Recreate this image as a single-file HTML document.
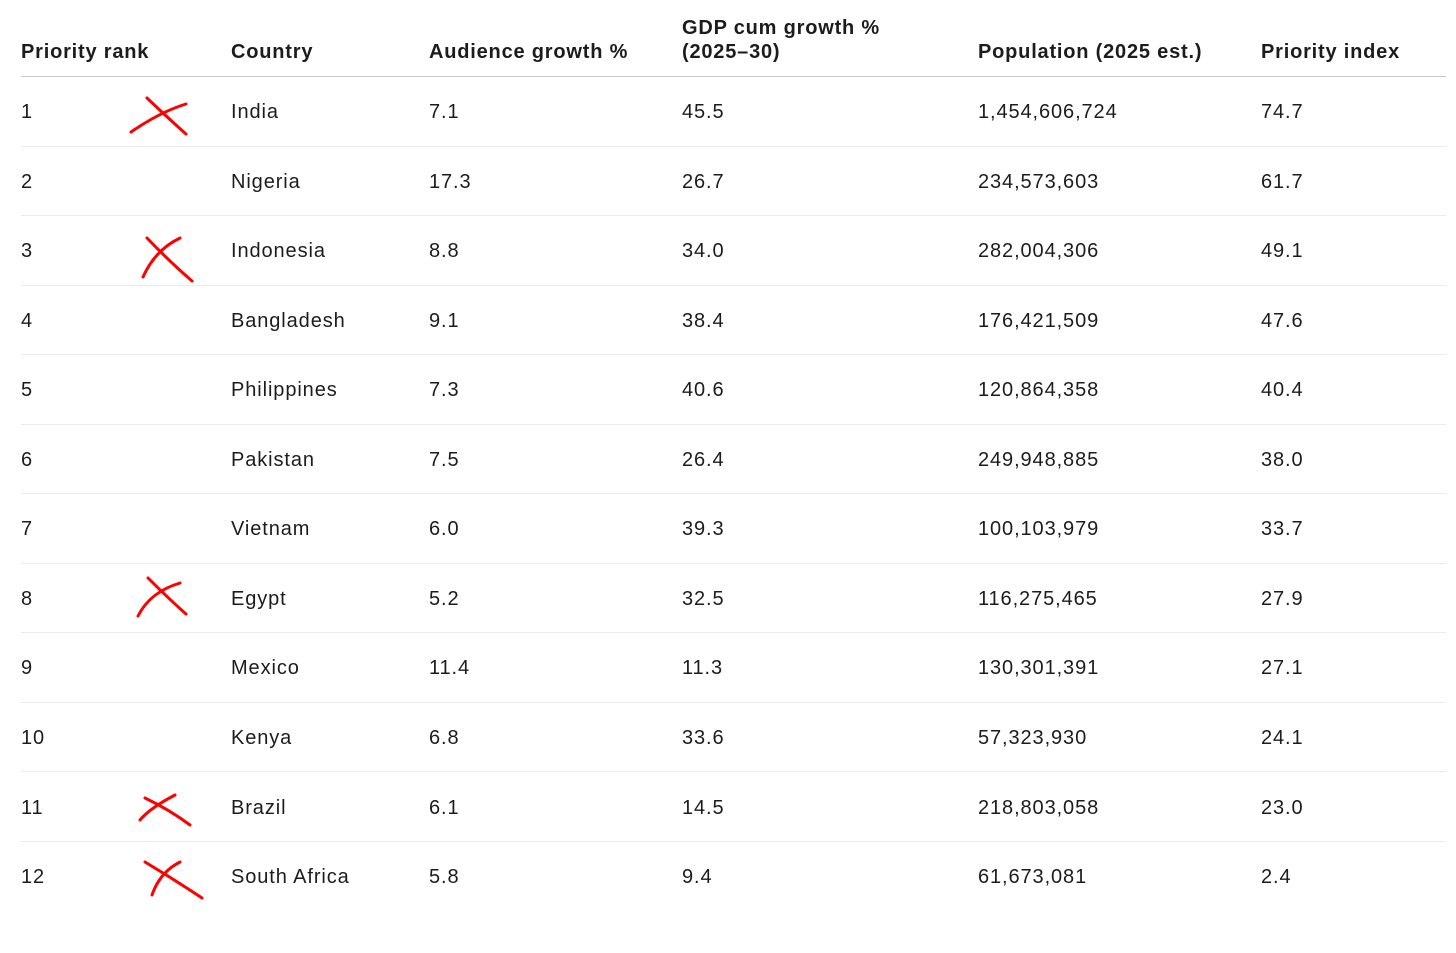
<!DOCTYPE html>
<html><head><meta charset="utf-8"><style>
body{margin:0;background:#fff;width:1456px;height:953px;overflow:hidden;font-family:"Liberation Sans",sans-serif;color:#1c1c1c;position:relative}
.t{position:absolute;font-size:20px;line-height:24px;white-space:nowrap;letter-spacing:0.9px}
.h{font-weight:bold;font-size:20px;letter-spacing:0.8px}
.line{position:absolute;left:21px;width:1425px;height:1px;background:#ececec}
</style></head><body>
<div id="root"></div>
<svg id="marks" width="1456" height="953" style="position:absolute;left:0;top:0"></svg>
<script>
const headers=["Priority rank","Country","Audience growth %","GDP cum growth %<br>(2025–30)","Population (2025 est.)","Priority index"];
const countries=["India","Nigeria","Indonesia","Bangladesh","Philippines","Pakistan","Vietnam","Egypt","Mexico","Kenya","Brazil","South Africa"];
const audience=["7.1","17.3","8.8","9.1","7.3","7.5","6.0","5.2","11.4","6.8","6.1","5.8"];
const gdp=["45.5","26.7","34.0","38.4","40.6","26.4","39.3","32.5","11.3","33.6","14.5","9.4"];
const population=["1,454,606,724","234,573,603","282,004,306","176,421,509","120,864,358","249,948,885","100,103,979","116,275,465","130,301,391","57,323,930","218,803,058","61,673,081"];
const priority=["74.7","61.7","49.1","47.6","40.4","38.0","33.7","27.9","27.1","24.1","23.0","2.4"];
const cols=[21,231,429,682,978,1261];
const root=document.getElementById('root');
headers.forEach((h,i)=>{
  const d=document.createElement('div');
  d.className='t h';
  
  
  d.innerHTML=h;
  d.style.left=cols[i]+'px';
  d.style.top=(i===3?16:40)+'px';
  root.appendChild(d);
});
const hl=document.createElement('div');
hl.className='line';hl.style.top='76px';hl.style.background='#c8c8c8';


root.appendChild(hl);
const rowH=69.55;
countries.forEach((c,r)=>{
  const vals=[String(r+1),c,audience[r],gdp[r],population[r],priority[r]];
  const cy=112+r*rowH;
  vals.forEach((v,i)=>{
    const d=document.createElement('div');
    d.className='t';
    
    
    d.textContent=v;
    d.style.left=cols[i]+'px';
    d.style.top=(cy-12)+'px';
    root.appendChild(d);
  });
  if(r<11){
    const l=document.createElement('div');
    l.className='line';
    
    
    l.style.top=Math.round(cy+33.5)+'px';
    root.appendChild(l);
  }
});
const crosses=[
 "M131 132 Q160 112 186 104 M147 98 Q168 118 186 134",
 "M147 238 Q170 262 192 281 M180 238 Q155 250 143 277",
 "M148 578 Q168 598 186 614 M180 583 Q150 592 138 616",
 "M145 798 Q170 810 190 825 M175 795 Q150 808 140 820",
 "M145 862 Q175 880 202 898 M180 862 Q160 872 152 895"];
const svg=document.getElementById('marks');
crosses.forEach(p=>{
  const e=document.createElementNS('http://www.w3.org/2000/svg','path');
  e.setAttribute('d',p);e.setAttribute('stroke','#f00');e.setAttribute('stroke-width','3');
  e.setAttribute('fill','none');e.setAttribute('stroke-linecap','round');
  
  
  svg.appendChild(e);
});
</script>
</body></html>
